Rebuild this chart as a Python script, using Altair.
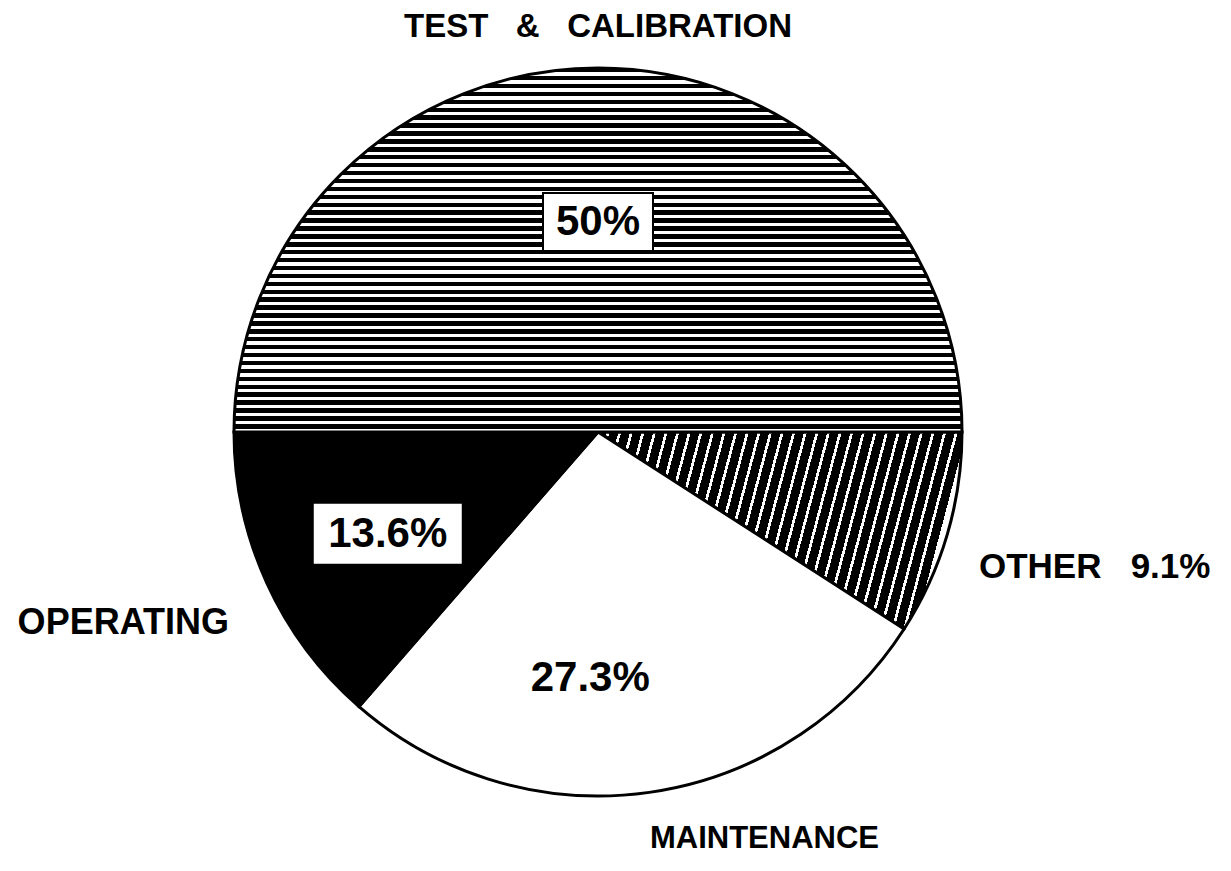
import math
import altair as alt
import pandas as pd

# ---- data ----
categories = ["OTHER", "MAINTENANCE", "OPERATING", "TEST & CALIBRATION"]
shares = [9.1, 27.3, 13.6, 50.0]
slice_order = [0, 1, 2, 3]

df = pd.DataFrame({"category": categories, "share": shares, "order": slice_order})

# ---- layout / style ----
PAD_TOP = 20
W, H = 1215, 830
CX, CY = 590, 432 - 8 - PAD_TOP
R = 364
FONT = "Liberation Sans"


def stripes(n, dark_frac, x2, y2):
    stops = []
    for k in range(n):
        a = round(k / n, 5)
        b = round((k + dark_frac) / n, 5)
        c = round((k + 1) / n, 5)
        stops += [
            alt.GradientStop(offset=a, color="black"),
            alt.GradientStop(offset=b, color="black"),
            alt.GradientStop(offset=b, color="white"),
            alt.GradientStop(offset=c, color="white"),
        ]
    return alt.LinearGradient(gradient="linear", stops=stops, x1=0, y1=0, x2=x2, y2=y2)


fills = {
    "OTHER": stripes(32, 0.76, 1, 0.1426),
    "MAINTENANCE": "white",
    "OPERATING": "black",
    "TEST & CALIBRATION": stripes(46, 0.56, 0, 1),
}

theta_scale = alt.Scale(domain=[0, 100], range=[math.pi / 2, math.pi / 2 + 2 * math.pi])

base = alt.Chart(df).transform_window(
    cum="sum(share)", sort=[alt.SortField("order")], frame=[None, 0]
).transform_calculate(
    start="datum.cum - datum.share",
    mid="datum.cum - datum.share / 2",
    angle="PI / 2 + datum.mid / 100 * 2 * PI",
)

layers = []
for cat in categories:
    layers.append(
        base.transform_filter(alt.datum.category == cat)
        .mark_arc(outerRadius=R, stroke="black", strokeWidth=3, fill=fills[cat])
        .encode(
            theta=alt.Theta("start:Q", scale=theta_scale),
            theta2="cum:Q",
            x=alt.value(CX),
            y=alt.value(CY),
        )
    )

GAP3 = "\u00a0\u00a0\u00a0"
# label style: (category, text expression, radius, dx, dy, font size, box (w,h) or None)
label_styles = [
    ("TEST & CALIBRATION", "datum.share + '%'", 210, 0, 0, 42, (110, 58)),
    ("OPERATING", "datum.share + '%'", 231, 0, 6, 42, (150, 62)),
    ("MAINTENANCE", "datum.share + '%'", 250, -43, -2, 42, None),
    ("OTHER", f"datum.category + '{GAP3}' + datum.share + '%'", 525, -7, -13, 35, None),
    ("OPERATING", "datum.category", 515, -6, -22, 36, None),
    ("MAINTENANCE", "datum.category", 415, 108, -4, 31, None),
    ("TEST & CALIBRATION",
     f"replace(replace(datum.category, ' ', '{GAP3}'), ' ', '{GAP3}')", 405, 0, 0, 33, None),
]

for cat, txt, r, dx, dy, fs, box in label_styles:
    lab = base.transform_filter(alt.datum.category == cat).transform_calculate(
        px=f"{CX} + {r} * sin(datum.angle) + ({dx})",
        py=f"{CY} - {r} * cos(datum.angle) + ({dy})",
        txt=txt,
    )
    if box is not None:
        bw, bh = box
        layers.append(
            lab.transform_calculate(
                bx0=f"datum.px - {bw / 2}", bx1=f"datum.px + {bw / 2}",
                by0=f"datum.py - {bh / 2}", by1=f"datum.py + {bh / 2}",
            )
            .mark_rect(fill="white", stroke="black", strokeWidth=2)
            .encode(
                x=alt.X("bx0:Q", scale=None, axis=None),
                x2="bx1:Q",
                y=alt.Y("by0:Q", scale=None, axis=None),
                y2="by1:Q",
            )
        )
    layers.append(
        lab.mark_text(font=FONT, fontSize=fs, fontWeight="bold", align="center",
                      baseline="middle", color="black")
        .encode(
            x=alt.X("px:Q", scale=None, axis=None),
            y=alt.Y("py:Q", scale=None, axis=None),
            text="txt:N",
        )
    )

chart = alt.layer(*layers).properties(
    width=W,
    height=H,
    padding={"top": PAD_TOP, "left": 0, "right": 0, "bottom": 0},
    autosize=alt.AutoSizeParams(type="none"),
).configure_view(stroke=None)

chart.save("out.html", embed_options={"renderer": "svg", "actions": False})
